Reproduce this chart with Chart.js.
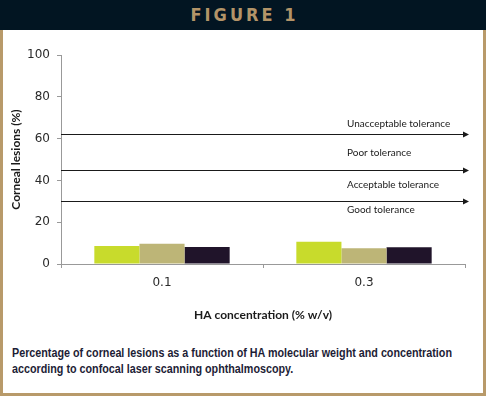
<!DOCTYPE html>
<html>
<head>
<meta charset="utf-8">
<script src="https://cdn.jsdelivr.net/npm/chart.js@4.4.0/dist/chart.umd.min.js"></script>
<style>
  html, body { margin: 0; padding: 0; background: #fff; }
  #page { position: relative; width: 486px; height: 396px; background: #b89a6a; overflow: hidden; }
  #header {
    position: absolute; left: 0; top: 0; width: 486px; height: 30px;
    background: #021522; color: #b39468;
    font-family: "DejaVu Sans Condensed", "DejaVu Sans", sans-serif; font-weight: bold;
    font-size: 18px; letter-spacing: 3px; text-indent: 3px; line-height: 30px; text-align: center;
  }
  #panel { position: absolute; left: 3px; top: 30px; width: 480px; height: 363px; background: #fff; }
  #chartBox { position: absolute; left: 0; top: 0; width: 480px; height: 300px; }
  #caption {
    position: absolute; left: 9px; top: 315px;
    font-family: "Liberation Sans", Arial, sans-serif; font-weight: bold;
    font-size: 12px; line-height: 16px; color: #1d1d36; white-space: nowrap;
  }
  #caption span { display: block; transform-origin: 0 50%; }
</style>
</head>
<body>
<div id="page">
  <div id="header">FIGURE 1</div>
  <div id="panel">
    <div id="chartBox"><canvas id="lesionChart" width="480" height="300"></canvas></div>
    <div id="caption">
      <span id="capLine1">Percentage of corneal lesions as a function of HA molecular weight and concentration</span>
      <span id="capLine2">according to confocal laser scanning ophthalmoscopy.</span>
    </div>
  </div>
</div>
<script>
// data
const concentrations = ['0.1', '0.3'];
const seriesA = [8.6, 10.7];   // yellow-green bars
const seriesB = [9.7, 7.5];    // khaki bars
const seriesC = [8.1, 8.0];    // dark bars
const yTicks = [0, 20, 40, 60, 80, 100];
const toleranceLevels = [62, 45, 30];
const toleranceLabels = ['Unacceptable tolerance', 'Poor tolerance', 'Acceptable tolerance', 'Good tolerance'];
const toleranceLabelAt = [67, 53, 38, 26];

const arrowsPlugin = {
    id: 'toleranceArrows',
    afterDatasetsDraw(chart) {
        const ctx = chart.ctx;
        const area = chart.chartArea;
        const y = chart.scales.y;
        ctx.save();
        ctx.strokeStyle = '#1a1a1a';
        ctx.fillStyle = '#1a1a1a';
        ctx.lineWidth = 1.2;
        toleranceLevels.forEach(level => {
            const py = Math.round(y.getPixelForValue(level)) + 0.5;
            const tip = area.right + 4;
            ctx.beginPath();
            ctx.moveTo(area.left, py);
            ctx.lineTo(tip - 4, py);
            ctx.stroke();
            ctx.beginPath();
            ctx.moveTo(tip, py);
            ctx.lineTo(tip - 6, py - 3);
            ctx.lineTo(tip - 6, py + 3);
            ctx.closePath();
            ctx.fill();
        });
        ctx.font = '10px Lato, "Open Sans", sans-serif';
        ctx.fillStyle = '#1a1a1a';
        ctx.textBaseline = 'middle';
        ctx.textAlign = 'left';
        toleranceLabels.forEach((text, i) => {
            ctx.fillText(text, area.right - 118, y.getPixelForValue(toleranceLabelAt[i]));
        });
        ctx.restore();
    }
};

document.addEventListener('DOMContentLoaded', function() {
    // squeeze the caption to the narrow face used in the print
    const line1 = document.getElementById('capLine1');
    const squeeze = 440 / line1.getBoundingClientRect().width;
    document.querySelectorAll('#caption span').forEach(span => {
        span.style.transform = 'scaleX(' + squeeze + ')';
    });

    const ctx = document.getElementById('lesionChart').getContext('2d');
    new Chart(ctx, {
        type: 'bar',
        data: {
            labels: concentrations,
            datasets: [
                { label: 'HA A', data: seriesA, backgroundColor: '#c8db2c' },
                { label: 'HA B', data: seriesB, backgroundColor: '#bdb577' },
                { label: 'HA C', data: seriesC, backgroundColor: '#20142a' }
            ]
        },
        options: {
            responsive: false,
            animation: false,
            events: [],
            layout: { padding: { left: 0, right: 18, top: 25, bottom: 0 } },
            plugins: { legend: { display: false }, tooltip: { enabled: false } },
            datasets: { bar: { categoryPercentage: 0.67, barPercentage: 1.0 } },
            scales: {
                x: {
                    afterFit: scale => { scale.height = 66; },
                    grid: { offset: true, drawOnChartArea: false, tickLength: 4, color: '#999' },
                    border: { color: '#999' },
                    ticks: { color: '#2a2a2a', padding: 8, font: { family: '"DejaVu Sans"', size: 12 } },
                    title: {
                        display: true, text: 'HA concentration (% w/v)', color: '#1a1a1a',
                        padding: { top: 0, bottom: 8 },
                        font: { family: 'Lato', size: 12, weight: 'bold' }
                    }
                },
                y: {
                    min: 0, max: 100,
                    afterFit: scale => { scale.width = 58; },
                    afterBuildTicks: scale => { scale.ticks = yTicks.map(v => ({ value: v })); },
                    grid: { drawOnChartArea: false, tickLength: 4, color: '#999' },
                    border: { color: '#999' },
                    ticks: { color: '#2a2a2a', padding: 7, font: { family: '"DejaVu Sans"', size: 12 } },
                    title: {
                        display: true, text: 'Corneal lesions (%)', color: '#1a1a1a',
                        padding: { top: 6, bottom: 0 },
                        font: { family: 'Lato', size: 12, weight: 'bold' }
                    }
                }
            }
        },
        plugins: [arrowsPlugin]
    });
});
</script>
</body>
</html>
